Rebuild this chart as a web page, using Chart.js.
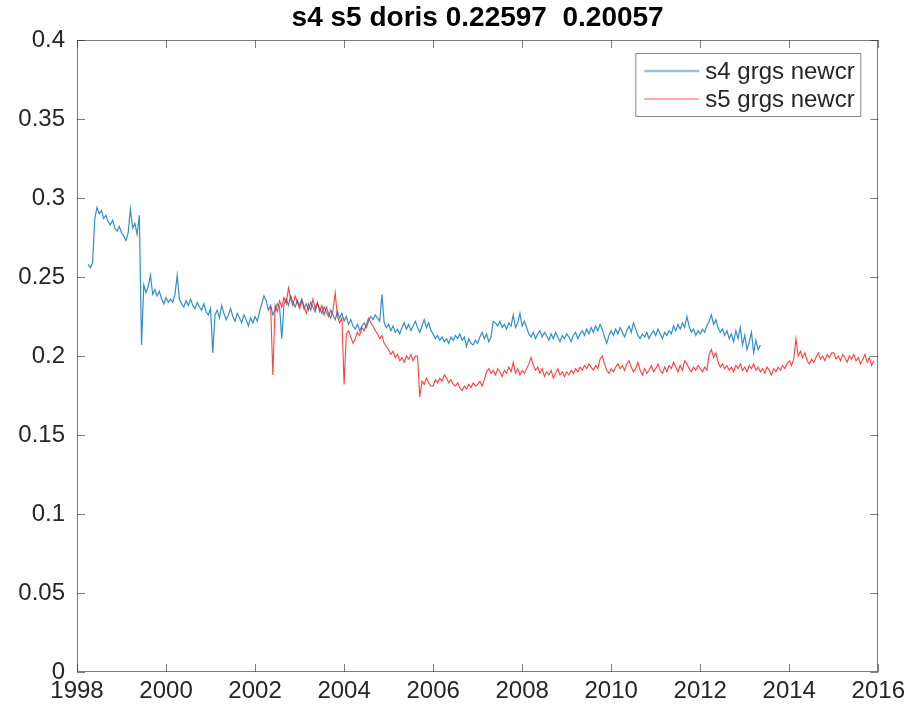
<!DOCTYPE html>
<html>
<head>
<meta charset="utf-8">
<script src="https://cdn.jsdelivr.net/npm/chart.js@4.4.1/dist/chart.umd.min.js"></script>
<style>
html,body{margin:0;padding:0;background:#fff;}
#wrap{width:910px;height:711px;}
</style>
</head>
<body>
<div id="wrap"><canvas id="c" width="910" height="711"></canvas></div>
<script>
const chartTitle = 's4 s5 doris 0.22597  0.20057';
const seriesNames = ['s4 grgs newcr', 's5 grgs newcr'];
const xTickYears = [1998, 2000, 2002, 2004, 2006, 2008, 2010, 2012, 2014, 2016];
const yTickValues = [0, 0.05, 0.1, 0.15, 0.2, 0.25, 0.3, 0.35, 0.4];
const sampleStep = 0.05; // years between samples in each row

// s4: each row starts at the year in s4RowStart
const s4RowStart = [1998.25, 1999, 2000, 2001, 2002, 2003, 2004, 2005, 2006, 2007, 2008, 2009, 2010, 2011, 2012, 2013];
const s4Values = [
 [0.258,0.256,0.259,0.287,0.294,0.290,0.292,0.287,0.289,0.285,0.283,0.286,0.281,0.279,0.282],
 [0.278,0.276,0.273,0.278,0.293,0.281,0.284,0.277,0.289,0.207,0.245,0.240,0.244,0.251,0.239,0.242,0.238,0.241,0.236,0.233],
 [0.237,0.234,0.236,0.234,0.239,0.251,0.236,0.233,0.231,0.235,0.232,0.236,0.232,0.230,0.234,0.231,0.229,0.233,0.228,0.226],
 [0.230,0.202,0.226,0.229,0.224,0.232,0.227,0.223,0.226,0.230,0.225,0.222,0.227,0.224,0.221,0.226,0.223,0.219,0.224,0.221],
 [0.225,0.222,0.228,0.233,0.238,0.235,0.229,0.232,0.226,0.229,0.233,0.231,0.211,0.233,0.236,0.232,0.238,0.234,0.231,0.235],
 [0.232,0.236,0.230,0.233,0.229,0.234,0.231,0.228,0.233,0.230,0.227,0.231,0.228,0.225,0.229,0.226,0.223,0.228,0.224,0.227],
 [0.222,0.225,0.220,0.223,0.219,0.217,0.220,0.216,0.219,0.221,0.218,0.222,0.225,0.223,0.226,0.224,0.222,0.239,0.221,0.218],
 [0.220,0.216,0.219,0.215,0.217,0.214,0.218,0.221,0.217,0.220,0.216,0.219,0.222,0.218,0.215,0.219,0.223,0.218,0.221,0.216],
 [0.214,0.211,0.213,0.210,0.212,0.209,0.211,0.208,0.212,0.210,0.213,0.211,0.214,0.210,0.212,0.206,0.211,0.208,0.207,0.210],
 [0.208,0.212,0.215,0.211,0.214,0.209,0.212,0.222,0.221,0.219,0.222,0.218,0.220,0.217,0.221,0.219,0.226,0.218,0.221,0.227],
 [0.219,0.222,0.218,0.214,0.212,0.215,0.211,0.214,0.216,0.212,0.215,0.213,0.210,0.214,0.211,0.215,0.212,0.209,0.213,0.211],
 [0.214,0.212,0.209,0.213,0.215,0.211,0.214,0.216,0.213,0.217,0.214,0.218,0.215,0.219,0.216,0.220,0.217,0.212,0.208,0.213],
 [0.216,0.213,0.217,0.214,0.218,0.215,0.212,0.216,0.219,0.215,0.221,0.217,0.213,0.211,0.214,0.212,0.215,0.211,0.214,0.216],
 [0.213,0.217,0.214,0.211,0.215,0.213,0.216,0.214,0.219,0.216,0.220,0.217,0.221,0.218,0.225,0.219,0.215,0.217,0.213,0.216],
 [0.214,0.217,0.215,0.219,0.222,0.226,0.220,0.223,0.218,0.215,0.217,0.213,0.216,0.211,0.214,0.209,0.216,0.211,0.218,0.207],
 [0.213,0.204,0.209,0.215,0.202,0.210,0.204,0.207]
];

// s5
const s5RowStart = [2002.35, 2003, 2004, 2005, 2006, 2007, 2008, 2009, 2010, 2011, 2012, 2013, 2014, 2015];
const s5Values = [
 [0.231,0.188,0.232,0.228,0.235,0.231,0.237,0.233,0.243,0.236,0.232,0.238,0.234],
 [0.230,0.235,0.231,0.227,0.233,0.229,0.236,0.230,0.234,0.228,0.232,0.226,0.231,0.227,0.224,0.229,0.240,0.225,0.221,0.224],
 [0.182,0.214,0.216,0.212,0.208,0.211,0.215,0.213,0.218,0.216,0.220,0.224,0.221,0.219,0.216,0.214,0.211,0.213,0.208,0.206],
 [0.204,0.201,0.203,0.199,0.201,0.197,0.199,0.196,0.200,0.198,0.201,0.197,0.200,0.200,0.174,0.184,0.182,0.186,0.183,0.181],
 [0.181,0.185,0.183,0.186,0.184,0.188,0.186,0.183,0.185,0.182,0.181,0.183,0.180,0.178,0.181,0.179,0.182,0.180,0.183,0.181],
 [0.182,0.184,0.181,0.185,0.190,0.192,0.189,0.191,0.188,0.192,0.190,0.187,0.191,0.189,0.193,0.190,0.196,0.189,0.192,0.188],
 [0.191,0.189,0.192,0.195,0.199,0.194,0.191,0.193,0.189,0.192,0.187,0.190,0.188,0.191,0.186,0.189,0.192,0.188,0.190,0.187],
 [0.190,0.188,0.191,0.189,0.192,0.190,0.193,0.191,0.194,0.192,0.195,0.193,0.191,0.194,0.192,0.198,0.200,0.195,0.191,0.189],
 [0.192,0.190,0.193,0.195,0.192,0.194,0.191,0.195,0.197,0.193,0.190,0.192,0.196,0.191,0.188,0.192,0.189,0.191,0.194,0.190],
 [0.192,0.195,0.191,0.189,0.193,0.190,0.194,0.192,0.196,0.193,0.190,0.194,0.191,0.197,0.195,0.192,0.190,0.193,0.191,0.194],
 [0.192,0.190,0.193,0.191,0.201,0.204,0.199,0.202,0.196,0.193,0.195,0.192,0.194,0.191,0.193,0.190,0.194,0.192,0.195,0.191],
 [0.193,0.190,0.194,0.192,0.195,0.191,0.193,0.190,0.192,0.189,0.193,0.191,0.188,0.192,0.190,0.193,0.191,0.194,0.192,0.195],
 [0.197,0.194,0.198,0.211,0.200,0.203,0.199,0.202,0.197,0.195,0.198,0.196,0.199,0.202,0.198,0.200,0.197,0.201,0.199,0.202],
 [0.202,0.198,0.200,0.197,0.201,0.199,0.196,0.200,0.198,0.201,0.197,0.199,0.195,0.198,0.201,0.196,0.199,0.194,0.197]
];

function toPoints(starts, rows) {
  const pts = [];
  rows.forEach((row, r) => row.forEach((v, j) => pts.push({x: starts[r] + j * sampleStep, y: v})));
  return pts;
}

const FONT = '"Liberation Sans", Arial, Helvetica, sans-serif';
const AXIS = 'rgba(38,38,38,0.6)';
const TXT = '#262626';
const BLUE = 'rgba(0,114,189,0.8)';
const RED = 'rgba(255,0,0,0.75)';

const matlabPlugin = {
  id: 'matlabBox',
  afterDraw(chart) {
    const {ctx, chartArea: a, scales: {x, y}} = chart;
    ctx.save();
    // box
    ctx.strokeStyle = AXIS;
    ctx.lineWidth = 1;
    ctx.strokeRect(Math.round(a.left) + 0.5, Math.round(a.top) + 0.5, Math.round(a.width) - 1, Math.round(a.height) - 1);
    // inward ticks
    const tl = 8;
    ctx.beginPath();
    xTickYears.forEach(v => {
      const px = Math.round(x.getPixelForValue(v)) + 0.5;
      ctx.moveTo(px, a.bottom); ctx.lineTo(px, a.bottom - tl);
      ctx.moveTo(px, a.top); ctx.lineTo(px, a.top + tl);
    });
    yTickValues.forEach(v => {
      const py = Math.round(y.getPixelForValue(v)) + 0.5;
      ctx.moveTo(a.left, py); ctx.lineTo(a.left + tl, py);
      ctx.moveTo(a.right, py); ctx.lineTo(a.right - tl, py);
    });
    ctx.stroke();
    // title
    ctx.fillStyle = '#000';
    ctx.font = 'bold 28px ' + FONT;
    ctx.textAlign = 'center';
    ctx.textBaseline = 'middle';
    ctx.fillText(chartTitle, (a.left + a.right) / 2, 18);
    // legend
    const lx = a.right - 243, ly = a.top + 13, lw = 225, lh = 63;
    ctx.fillStyle = '#fff';
    ctx.fillRect(lx, ly, lw, lh);
    ctx.strokeStyle = 'rgba(38,38,38,0.55)';
    ctx.strokeRect(lx + 0.5, ly + 0.5, lw, lh);
    const cols = ['rgba(130,185,225,0.85)', 'rgba(255,120,120,0.85)'];
    const widths = [2.5, 1.5];
    ctx.font = '24px ' + FONT;
    ctx.textAlign = 'left';
    seriesNames.forEach((name, i) => {
      const yy = ly + 18 + i * 28;
      ctx.strokeStyle = cols[i];
      ctx.lineWidth = widths[i];
      ctx.beginPath();
      ctx.moveTo(lx + 9, yy); ctx.lineTo(lx + 64, yy);
      ctx.stroke();
      ctx.fillStyle = TXT;
      ctx.fillText(name, lx + 70, yy + 1);
    });
    ctx.restore();
  }
};

new Chart(document.getElementById('c'), {
  type: 'line',
  data: {
    datasets: [
      {label: seriesNames[0], data: toPoints(s4RowStart, s4Values), borderColor: BLUE, borderWidth: 1.2, pointRadius: 0, tension: 0, order: 1},
      {label: seriesNames[1], data: toPoints(s5RowStart, s5Values), borderColor: RED, borderWidth: 1.1, pointRadius: 0, tension: 0, order: 0}
    ]
  },
  options: {
    responsive: false,
    animation: false,
    layout: {padding: {top: 40, right: 30, left: 0, bottom: 0}},
    plugins: {legend: {display: false}, tooltip: {enabled: false}, title: {display: false}},
    scales: {
      x: {
        type: 'linear', min: 1998, max: 2016,
        afterFit: s => { s.height = 39; },
        afterBuildTicks: s => { s.ticks = xTickYears.map(v => ({value: v})); },
        ticks: {callback: v => String(v), font: {size: 24, family: FONT}, color: TXT, padding: 5, maxRotation: 0, autoSkip: false},
        grid: {display: false, drawTicks: false},
        border: {display: false}
      },
      y: {
        min: 0, max: 0.4,
        afterFit: s => { s.width = 77; },
        afterBuildTicks: s => { s.ticks = yTickValues.map(v => ({value: v})); },
        ticks: {callback: v => String(Number(v.toFixed(2))), font: {size: 24, family: FONT}, color: TXT, padding: 12, autoSkip: false},
        grid: {display: false, drawTicks: false},
        border: {display: false}
      }
    }
  },
  plugins: [matlabPlugin]
});
</script>
</body>
</html>
